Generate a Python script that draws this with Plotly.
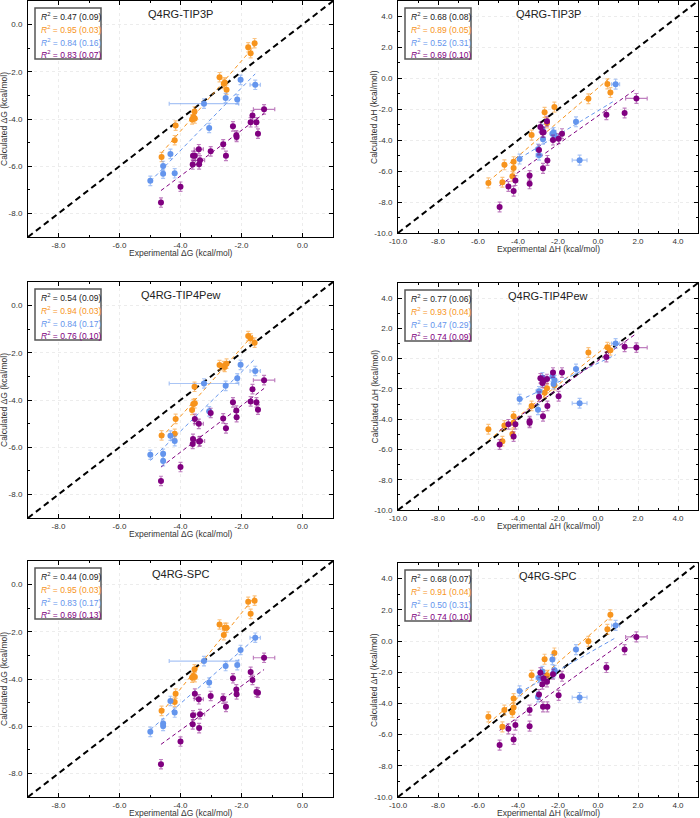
import numpy as np
import plotly.graph_objects as go

W, H = 700, 818
FONT = "Liberation Sans, Arial, Helvetica, sans-serif"

ORANGE = "#F7941D"
BLUE = "#6495ED"
PURPLE = "#800080"
ORANGE_EB = "rgba(247,148,29,0.55)"
BLUE_EB = "rgba(100,149,237,0.55)"
PURPLE_EB = "rgba(128,0,128,0.5)"

models = ["Q4RG-TIP3P", "Q4RG-TIP4Pew", "Q4RG-SPC"]

# ---------------- ΔG (kcal/mol) ----------------
dg_exp_orange = [-1.78, -1.57, -1.70, -2.72, -2.58, -2.55, -2.49, -3.54, -3.58, -3.53, -3.62, -4.16, -4.19, -4.62]
dg_exp_blue = [-2.03, -1.55, -2.52, -2.14, -3.23, -3.06, -4.33, -4.57, -4.57, -4.19, -4.99]
dg_exp_purple = [-1.26, -1.64, -1.70, -1.51, -1.46, -2.28, -2.17, -2.16, -2.60, -2.51, -3.01,
                 -3.40, -3.59, -3.53, -3.60, -3.36, -3.39, -4.00, -4.64]

dg_xerr_orange = [0.05] * 14
dg_xerr_blue = [0.05, 0.17, 0.05, 0.05, 1.14, 0.05, 0.06, 0.05, 0.05, 0.05, 0.05]
dg_xerr_purple = [0.35, 0.05, 0.05, 0.05, 0.05, 0.05, 0.05, 0.05, 0.05, 0.05, 0.05,
                  0.15, 0.05, 0.05, 0.05, 0.15, 0.05, 0.05, 0.05]
dg_yerr = 0.2

dg_tip3p_orange = [-0.96, -0.79, -1.21, -2.23, -2.51, -2.45, -2.76, -3.68, -3.92, -3.98, -4.02, -4.28, -4.90, -5.61]
dg_tip3p_blue = [-2.34, -2.55, -3.11, -3.17, -3.35, -4.38, -5.48, -5.99, -6.32, -6.30, -6.62]
dg_tip3p_purple = [-3.59, -3.85, -4.14, -4.14, -4.62, -4.31, -4.69, -4.76, -5.07, -5.56, -5.37,
                   -5.28, -5.56, -5.56, -5.93, -5.75, -5.92, -6.87, -7.54]

dg_tip4pew_orange = [-1.29, -1.57, -1.39, -2.52, -2.56, -2.60, -2.46, -3.44, -4.17, -4.14, -4.42, -4.80, -5.43, -5.50]
dg_tip4pew_blue = [-2.51, -2.77, -3.40, -3.08, -3.30, -4.48, -5.51, -6.28, -6.59, -5.74, -6.32]
dg_tip4pew_purple = [-3.16, -3.54, -4.06, -4.10, -4.41, -4.10, -4.45, -4.73, -4.78, -5.20, -4.55,
                     -5.01, -5.65, -4.80, -5.86, -5.74, -5.76, -6.84, -7.43]

dg_spc_orange = [-0.73, -0.68, -1.24, -1.69, -2.14, -1.83, -1.83, -3.59, -3.87, -3.92, -3.94, -4.62, -4.97, -5.35]
dg_spc_blue = [-2.77, -2.25, -3.45, -3.41, -3.24, -4.15, -4.93, -5.89, -5.99, -5.42, -6.24]
dg_spc_purple = [-3.10, -4.04, -3.70, -4.55, -4.58, -3.97, -4.44, -4.65, -4.83, -5.18, -4.72,
                 -4.86, -5.54, -4.62, -5.92, -5.49, -6.08, -6.65, -7.61]

dg_r2_black = ["0.47 (0.09)", "0.54 (0.09)", "0.44 (0.09)"]
dg_r2_orange = ["0.95 (0.03)", "0.94 (0.03)", "0.95 (0.03)"]
dg_r2_blue = ["0.84 (0.16)", "0.84 (0.17)", "0.83 (0.17)"]
dg_r2_purple = ["0.83 (0.07)", "0.76 (0.10)", "0.69 (0.13)"]

dg_range = [-9, 1]
dg_ticks = [-8, -6, -4, -2, 0]
dg_ticklabels = ["-8.0", "-6.0", "-4.0", "-2.0", "0.0"]

# ---------------- ΔH (kcal/mol) ----------------
dh_exp_orange = [-5.48, -4.78, -4.68, -4.28, -4.22, -4.22, -3.32, -2.67, -2.55, -2.18, -0.48, 0.47, 0.62]
dh_exp_blue = [0.88, -1.10, -2.28, -2.17, -2.75, -2.78, -3.92, -2.95, -3.00, -0.92, -2.22]
dh_exp_purple = [1.92, 1.33, 0.42, -1.80, -1.97, -2.25, -2.55, -2.53, -2.75, -2.88, -2.78,
                 -2.72, -2.95, -3.42, -3.42, -4.13, -4.22, -4.48, -4.92]

dh_xerr_orange = [0.08] * 13
dh_xerr_blue = [0.2, 0.08, 0.08, 0.08, 0.08, 0.08, 0.08, 0.15, 0.08, 0.37, 0.08]
dh_xerr_purple = [0.54] + [0.08] * 18
dh_yerr = 0.32

dh_tip3p_orange = [-6.76, -6.72, -5.59, -6.33, -5.39, -5.80, -3.67, -2.20, -2.88, -1.86, -1.32, -0.36, -0.92]
dh_tip3p_blue = [-0.38, -2.81, -3.58, -3.69, -3.94, -3.30, -5.22, -4.97, -4.58, -5.29, -3.50]
dh_tip3p_purple = [-1.30, -2.24, -2.35, -3.58, -3.90, -3.99, -2.77, -5.31, -5.82, -3.15, -3.48,
                   -3.48, -4.63, -6.29, -6.82, -6.61, -7.29, -6.99, -8.32]

dh_tip4pew_orange = [-4.66, -5.45, -4.41, -4.98, -3.81, -4.24, -3.12, -2.25, -1.95, -1.75, 0.41, 0.75, 0.55]
dh_tip4pew_blue = [1.00, -0.68, -1.18, -1.42, -1.50, -1.24, -2.67, -2.16, -3.38, -2.95, -1.67]
dh_tip4pew_purple = [0.73, 0.78, 0.11, -0.92, -2.48, -0.92, -1.35, -3.12, -3.81, -1.30, -1.60,
                     -1.45, -2.52, -4.13, -4.24, -4.34, -5.15, -4.34, -5.67]

dh_spc_orange = [-4.86, -5.50, -4.43, -4.58, -3.69, -4.26, -2.20, -1.17, -2.20, -0.77, -0.02, 0.75, 1.68]
dh_spc_blue = [1.00, -0.55, -1.19, -1.88, -2.41, -1.95, -3.20, -2.35, -3.58, -3.62, -2.05]
dh_spc_purple = [0.26, -0.55, -1.70, -2.26, -3.48, -2.13, -2.62, -4.22, -4.22, -2.03, -2.77,
                 -2.41, -3.43, -4.43, -5.46, -5.39, -6.31, -5.63, -6.67]

dh_r2_black = ["0.68 (0.08)", "0.77 (0.06)", "0.68 (0.07)"]
dh_r2_orange = ["0.89 (0.05)", "0.93 (0.04)", "0.91 (0.04)"]
dh_r2_blue = ["0.52 (0.31)", "0.47 (0.29)", "0.50 (0.31)"]
dh_r2_purple = ["0.69 (0.10)", "0.74 (0.09)", "0.74 (0.10)"]

dh_range = [-10, 5]
dh_ticks = [-10, -8, -6, -4, -2, 0, 2, 4]
dh_ticklabels = ["-10.0", "-8.0", "-6.0", "-4.0", "-2.0", "0.0", "2.0", "4.0"]

# ---------------- panel geometry (pixels) ----------------
left_x = (28, 333)
right_x = (398, 698)
left_rows = [(1, 237), (282, 518), (561, 797)]
right_rows = [(1, 233), (283, 510), (563, 797)]

dg_calc = [
    (dg_tip3p_orange, dg_tip3p_blue, dg_tip3p_purple),
    (dg_tip4pew_orange, dg_tip4pew_blue, dg_tip4pew_purple),
    (dg_spc_orange, dg_spc_blue, dg_spc_purple),
]
dh_calc = [
    (dh_tip3p_orange, dh_tip3p_blue, dh_tip3p_purple),
    (dh_tip4pew_orange, dh_tip4pew_blue, dh_tip4pew_purple),
    (dh_spc_orange, dh_spc_blue, dh_spc_purple),
]

panels = []
for i in range(3):
    panels.append(dict(q="G", xpx=left_x, ypx=left_rows[i], calc=dg_calc[i], model=models[i],
                       r2=[dg_r2_black[i], dg_r2_orange[i], dg_r2_blue[i], dg_r2_purple[i]]))
    panels.append(dict(q="H", xpx=right_x, ypx=right_rows[i], calc=dh_calc[i], model=models[i],
                       r2=[dh_r2_black[i], dh_r2_orange[i], dh_r2_blue[i], dh_r2_purple[i]]))


def fx(px):
    return px / W


def fy(py):
    return 1 - py / H


fig = go.Figure()
annotations = []
shapes = []
layout_axes = {}

series_colors = [ORANGE, BLUE, PURPLE]
series_eb = [ORANGE_EB, BLUE_EB, PURPLE_EB]

for k, p in enumerate(panels, start=1):
    xa = "x" if k == 1 else f"x{k}"
    ya = "y" if k == 1 else f"y{k}"
    if p["q"] == "G":
        exps = [dg_exp_orange, dg_exp_blue, dg_exp_purple]
        xerrs = [dg_xerr_orange, dg_xerr_blue, dg_xerr_purple]
        yerr = dg_yerr
        rng, ticks, labels = dg_range, dg_ticks, dg_ticklabels
        sym = "ΔG"
    else:
        exps = [dh_exp_orange, dh_exp_blue, dh_exp_purple]
        xerrs = [dh_xerr_orange, dh_xerr_blue, dh_xerr_purple]
        yerr = dh_yerr
        rng, ticks, labels = dh_range, dh_ticks, dh_ticklabels
        sym = "ΔH"

    # identity line
    fig.add_trace(go.Scatter(x=rng, y=rng, mode="lines", xaxis=xa, yaxis=ya,
                             line=dict(color="black", width=2, dash="6px,4px"),
                             showlegend=False, hoverinfo="skip"))
    # fit lines
    for s in range(3):
        xs = np.array(exps[s])
        ys = np.array(p["calc"][s])
        m, b = np.polyfit(xs, ys, 1)
        xl = np.array([xs.min(), xs.max()])
        fig.add_trace(go.Scatter(x=xl, y=m * xl + b, mode="lines", xaxis=xa, yaxis=ya,
                                 line=dict(color=series_colors[s], width=1, dash="4px,3px"),
                                 showlegend=False, hoverinfo="skip"))
    # points
    for s in range(3):
        n = len(exps[s])
        fig.add_trace(go.Scatter(
            x=exps[s], y=p["calc"][s], mode="markers", xaxis=xa, yaxis=ya,
            marker=dict(color=series_colors[s], size=6),
            error_x=dict(type="data", array=xerrs[s], color=series_eb[s], thickness=1.2, width=2),
            error_y=dict(type="data", array=[yerr] * n, color=series_eb[s], thickness=1.2, width=2),
            showlegend=False))

    x0, x1 = p["xpx"]
    y0, y1 = p["ypx"]
    common = dict(showline=True, linecolor="black", linewidth=1, mirror="allticks",
                  ticks="inside", ticklen=4, tickwidth=1, tickcolor="black",
                  showgrid=True, gridcolor="#ececec", griddash="dot", gridwidth=1,
                  zeroline=False, tickfont=dict(size=8, color="#333", family=FONT),
                  minor=dict(tickmode="linear", tick0=0, dtick=1, ticks="inside", ticklen=2,
                             tickcolor="black", showgrid=False),
                  automargin=False, fixedrange=True,
                  tickmode="array", tickvals=ticks, ticktext=labels, range=rng)
    layout_axes["xaxis" if k == 1 else f"xaxis{k}"] = dict(common, domain=[fx(x0), fx(x1)], anchor=ya)
    layout_axes["yaxis" if k == 1 else f"yaxis{k}"] = dict(common, domain=[fy(y1), fy(y0)], anchor=xa,
                                                           ticklabelstandoff=3)

    # panel title
    annotations.append(dict(text=p["model"], xref="paper", yref="paper", x=fx((x0 + x1) / 2),
                            y=fy(y0 + 13), xanchor="center", yanchor="middle", showarrow=False,
                            font=dict(size=11, color="#222", family=FONT)))
    # axis titles
    annotations.append(dict(text=f"Experimental {sym} (kcal/mol)", xref="paper", yref="paper",
                            x=fx((x0 + x1) / 2), y=fy(y1 + 16), xanchor="center", yanchor="middle",
                            showarrow=False, font=dict(size=8.5, color="#333", family=FONT)))
    annotations.append(dict(text=f"Calculated {sym} (kcal/mol)", xref="paper", yref="paper",
                            x=fx(x0 - 24), y=fy((y0 + y1) / 2), xanchor="center", yanchor="middle",
                            textangle=-90, showarrow=False, font=dict(size=8.5, color="#333", family=FONT)))
    # R^2 box
    bx0, by0 = x0 + 7, y0 + 7
    shapes.append(dict(type="rect", xref="paper", yref="paper", x0=fx(bx0), x1=fx(bx0 + 66),
                       y0=fy(by0 + 51), y1=fy(by0), line=dict(color="#555", width=1.5),
                       fillcolor="white", layer="above"))
    line_colors = ["#222", ORANGE, BLUE, PURPLE]
    for j in range(4):
        annotations.append(dict(text=f"<i>R</i><sup>2</sup> = {p['r2'][j]}", xref="paper", yref="paper",
                                x=fx(bx0 + 4), y=fy(by0 + 8.7 + 12.7 * j), xanchor="left",
                                yanchor="middle", showarrow=False,
                                font=dict(size=8.5, color=line_colors[j], family=FONT)))

fig.update_layout(
    width=W, height=H, margin=dict(l=0, r=0, t=0, b=0),
    paper_bgcolor="white", plot_bgcolor="white",
    font=dict(family=FONT, color="#333"),
    showlegend=False, annotations=annotations, shapes=shapes,
    **layout_axes,
)

fig.write_html("out.html", config={"displayModeBar": False},
               post_script="document.body.style.margin='0';document.body.style.overflow='hidden';")
